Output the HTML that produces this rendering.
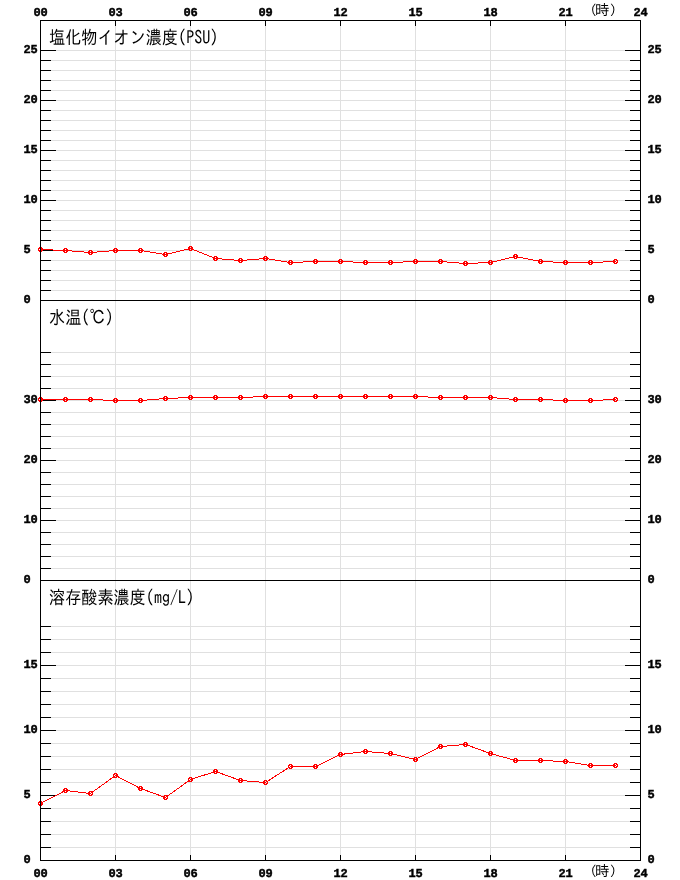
<!DOCTYPE html>
<html lang="ja"><head><meta charset="utf-8"><title>水質グラフ</title>
<style>
html,body{margin:0;padding:0;background:#fff;}
body{width:680px;height:880px;overflow:hidden;}
svg{display:block;}
.n{font-family:"Liberation Mono","DejaVu Sans Mono",monospace;font-weight:bold;font-size:12px;letter-spacing:-0.2px;fill:#000;stroke:#000;stroke-width:0.45px;text-rendering:geometricPrecision;}
.t{font-family:"IPAGothic","Liberation Sans","Noto Sans CJK JP",sans-serif;font-size:16px;fill:#000;}
.h{font-family:"IPAGothic","Liberation Sans","Noto Sans CJK JP",sans-serif;font-size:13.5px;fill:#000;}
.g{fill:#e0e0e0;}
.k{fill:#000;}
.r{fill:#f00;}
.l{fill:none;stroke:#f00;stroke-width:1;}
</style></head><body>
<svg width="680" height="880" viewBox="0 0 680 880" shape-rendering="crispEdges">
<rect width="680" height="880" fill="#fff"/>
<g class="g">
<rect x="41" y="50" width="599" height="1"/>
<rect x="41" y="60" width="599" height="1"/>
<rect x="41" y="70" width="599" height="1"/>
<rect x="41" y="80" width="599" height="1"/>
<rect x="41" y="90" width="599" height="1"/>
<rect x="41" y="100" width="599" height="1"/>
<rect x="41" y="110" width="599" height="1"/>
<rect x="41" y="120" width="599" height="1"/>
<rect x="41" y="130" width="599" height="1"/>
<rect x="41" y="140" width="599" height="1"/>
<rect x="41" y="150" width="599" height="1"/>
<rect x="41" y="160" width="599" height="1"/>
<rect x="41" y="170" width="599" height="1"/>
<rect x="41" y="180" width="599" height="1"/>
<rect x="41" y="190" width="599" height="1"/>
<rect x="41" y="200" width="599" height="1"/>
<rect x="41" y="210" width="599" height="1"/>
<rect x="41" y="220" width="599" height="1"/>
<rect x="41" y="230" width="599" height="1"/>
<rect x="41" y="240" width="599" height="1"/>
<rect x="41" y="250" width="599" height="1"/>
<rect x="41" y="260" width="599" height="1"/>
<rect x="41" y="270" width="599" height="1"/>
<rect x="41" y="280" width="599" height="1"/>
<rect x="41" y="290" width="599" height="1"/>
<rect x="41" y="352" width="599" height="1"/>
<rect x="41" y="364" width="599" height="1"/>
<rect x="41" y="376" width="599" height="1"/>
<rect x="41" y="388" width="599" height="1"/>
<rect x="41" y="400" width="599" height="1"/>
<rect x="41" y="412" width="599" height="1"/>
<rect x="41" y="424" width="599" height="1"/>
<rect x="41" y="436" width="599" height="1"/>
<rect x="41" y="448" width="599" height="1"/>
<rect x="41" y="460" width="599" height="1"/>
<rect x="41" y="472" width="599" height="1"/>
<rect x="41" y="484" width="599" height="1"/>
<rect x="41" y="496" width="599" height="1"/>
<rect x="41" y="508" width="599" height="1"/>
<rect x="41" y="520" width="599" height="1"/>
<rect x="41" y="532" width="599" height="1"/>
<rect x="41" y="544" width="599" height="1"/>
<rect x="41" y="556" width="599" height="1"/>
<rect x="41" y="568" width="599" height="1"/>
<rect x="41" y="626" width="599" height="1"/>
<rect x="41" y="639" width="599" height="1"/>
<rect x="41" y="652" width="599" height="1"/>
<rect x="41" y="665" width="599" height="1"/>
<rect x="41" y="678" width="599" height="1"/>
<rect x="41" y="691" width="599" height="1"/>
<rect x="41" y="704" width="599" height="1"/>
<rect x="41" y="717" width="599" height="1"/>
<rect x="41" y="730" width="599" height="1"/>
<rect x="41" y="743" width="599" height="1"/>
<rect x="41" y="756" width="599" height="1"/>
<rect x="41" y="769" width="599" height="1"/>
<rect x="41" y="782" width="599" height="1"/>
<rect x="41" y="795" width="599" height="1"/>
<rect x="41" y="808" width="599" height="1"/>
<rect x="41" y="821" width="599" height="1"/>
<rect x="41" y="834" width="599" height="1"/>
<rect x="41" y="847" width="599" height="1"/>
<rect x="115" y="21" width="1" height="839"/>
<rect x="190" y="21" width="1" height="839"/>
<rect x="265" y="21" width="1" height="839"/>
<rect x="340" y="21" width="1" height="839"/>
<rect x="415" y="21" width="1" height="839"/>
<rect x="490" y="21" width="1" height="839"/>
<rect x="565" y="21" width="1" height="839"/>
</g>
<g class="k">
<rect x="40" y="20" width="601" height="1"/>
<rect x="40" y="300" width="601" height="1"/>
<rect x="40" y="580" width="601" height="1"/>
<rect x="40" y="860" width="601" height="1"/>
<rect x="41" y="50" width="15" height="1"/>
<rect x="625" y="50" width="15" height="1"/>
<rect x="41" y="60" width="10" height="1"/>
<rect x="630" y="60" width="10" height="1"/>
<rect x="41" y="70" width="10" height="1"/>
<rect x="630" y="70" width="10" height="1"/>
<rect x="41" y="80" width="10" height="1"/>
<rect x="630" y="80" width="10" height="1"/>
<rect x="41" y="90" width="10" height="1"/>
<rect x="630" y="90" width="10" height="1"/>
<rect x="41" y="100" width="15" height="1"/>
<rect x="625" y="100" width="15" height="1"/>
<rect x="41" y="110" width="10" height="1"/>
<rect x="630" y="110" width="10" height="1"/>
<rect x="41" y="120" width="10" height="1"/>
<rect x="630" y="120" width="10" height="1"/>
<rect x="41" y="130" width="10" height="1"/>
<rect x="630" y="130" width="10" height="1"/>
<rect x="41" y="140" width="10" height="1"/>
<rect x="630" y="140" width="10" height="1"/>
<rect x="41" y="150" width="15" height="1"/>
<rect x="625" y="150" width="15" height="1"/>
<rect x="41" y="160" width="10" height="1"/>
<rect x="630" y="160" width="10" height="1"/>
<rect x="41" y="170" width="10" height="1"/>
<rect x="630" y="170" width="10" height="1"/>
<rect x="41" y="180" width="10" height="1"/>
<rect x="630" y="180" width="10" height="1"/>
<rect x="41" y="190" width="10" height="1"/>
<rect x="630" y="190" width="10" height="1"/>
<rect x="41" y="200" width="15" height="1"/>
<rect x="625" y="200" width="15" height="1"/>
<rect x="41" y="210" width="10" height="1"/>
<rect x="630" y="210" width="10" height="1"/>
<rect x="41" y="220" width="10" height="1"/>
<rect x="630" y="220" width="10" height="1"/>
<rect x="41" y="230" width="10" height="1"/>
<rect x="630" y="230" width="10" height="1"/>
<rect x="41" y="240" width="10" height="1"/>
<rect x="630" y="240" width="10" height="1"/>
<rect x="41" y="250" width="15" height="1"/>
<rect x="625" y="250" width="15" height="1"/>
<rect x="41" y="260" width="10" height="1"/>
<rect x="630" y="260" width="10" height="1"/>
<rect x="41" y="270" width="10" height="1"/>
<rect x="630" y="270" width="10" height="1"/>
<rect x="41" y="280" width="10" height="1"/>
<rect x="630" y="280" width="10" height="1"/>
<rect x="41" y="290" width="10" height="1"/>
<rect x="630" y="290" width="10" height="1"/>
<rect x="41" y="352" width="10" height="1"/>
<rect x="630" y="352" width="10" height="1"/>
<rect x="41" y="364" width="10" height="1"/>
<rect x="630" y="364" width="10" height="1"/>
<rect x="41" y="376" width="10" height="1"/>
<rect x="630" y="376" width="10" height="1"/>
<rect x="41" y="388" width="10" height="1"/>
<rect x="630" y="388" width="10" height="1"/>
<rect x="41" y="400" width="15" height="1"/>
<rect x="625" y="400" width="15" height="1"/>
<rect x="41" y="412" width="10" height="1"/>
<rect x="630" y="412" width="10" height="1"/>
<rect x="41" y="424" width="10" height="1"/>
<rect x="630" y="424" width="10" height="1"/>
<rect x="41" y="436" width="10" height="1"/>
<rect x="630" y="436" width="10" height="1"/>
<rect x="41" y="448" width="10" height="1"/>
<rect x="630" y="448" width="10" height="1"/>
<rect x="41" y="460" width="15" height="1"/>
<rect x="625" y="460" width="15" height="1"/>
<rect x="41" y="472" width="10" height="1"/>
<rect x="630" y="472" width="10" height="1"/>
<rect x="41" y="484" width="10" height="1"/>
<rect x="630" y="484" width="10" height="1"/>
<rect x="41" y="496" width="10" height="1"/>
<rect x="630" y="496" width="10" height="1"/>
<rect x="41" y="508" width="10" height="1"/>
<rect x="630" y="508" width="10" height="1"/>
<rect x="41" y="520" width="15" height="1"/>
<rect x="625" y="520" width="15" height="1"/>
<rect x="41" y="532" width="10" height="1"/>
<rect x="630" y="532" width="10" height="1"/>
<rect x="41" y="544" width="10" height="1"/>
<rect x="630" y="544" width="10" height="1"/>
<rect x="41" y="556" width="10" height="1"/>
<rect x="630" y="556" width="10" height="1"/>
<rect x="41" y="568" width="10" height="1"/>
<rect x="630" y="568" width="10" height="1"/>
<rect x="41" y="626" width="10" height="1"/>
<rect x="630" y="626" width="10" height="1"/>
<rect x="41" y="639" width="10" height="1"/>
<rect x="630" y="639" width="10" height="1"/>
<rect x="41" y="652" width="10" height="1"/>
<rect x="630" y="652" width="10" height="1"/>
<rect x="41" y="665" width="15" height="1"/>
<rect x="625" y="665" width="15" height="1"/>
<rect x="41" y="678" width="10" height="1"/>
<rect x="630" y="678" width="10" height="1"/>
<rect x="41" y="691" width="10" height="1"/>
<rect x="630" y="691" width="10" height="1"/>
<rect x="41" y="704" width="10" height="1"/>
<rect x="630" y="704" width="10" height="1"/>
<rect x="41" y="717" width="10" height="1"/>
<rect x="630" y="717" width="10" height="1"/>
<rect x="41" y="730" width="15" height="1"/>
<rect x="625" y="730" width="15" height="1"/>
<rect x="41" y="743" width="10" height="1"/>
<rect x="630" y="743" width="10" height="1"/>
<rect x="41" y="756" width="10" height="1"/>
<rect x="630" y="756" width="10" height="1"/>
<rect x="41" y="769" width="10" height="1"/>
<rect x="630" y="769" width="10" height="1"/>
<rect x="41" y="782" width="10" height="1"/>
<rect x="630" y="782" width="10" height="1"/>
<rect x="41" y="795" width="15" height="1"/>
<rect x="625" y="795" width="15" height="1"/>
<rect x="41" y="808" width="10" height="1"/>
<rect x="630" y="808" width="10" height="1"/>
<rect x="41" y="821" width="10" height="1"/>
<rect x="630" y="821" width="10" height="1"/>
<rect x="41" y="834" width="10" height="1"/>
<rect x="630" y="834" width="10" height="1"/>
<rect x="41" y="847" width="10" height="1"/>
<rect x="630" y="847" width="10" height="1"/>
<rect x="115" y="21" width="1" height="5"/>
<rect x="115" y="855" width="1" height="5"/>
<rect x="190" y="21" width="1" height="5"/>
<rect x="190" y="855" width="1" height="5"/>
<rect x="265" y="21" width="1" height="5"/>
<rect x="265" y="855" width="1" height="5"/>
<rect x="340" y="21" width="1" height="5"/>
<rect x="340" y="855" width="1" height="5"/>
<rect x="415" y="21" width="1" height="5"/>
<rect x="415" y="855" width="1" height="5"/>
<rect x="490" y="21" width="1" height="5"/>
<rect x="490" y="855" width="1" height="5"/>
<rect x="565" y="21" width="1" height="5"/>
<rect x="565" y="855" width="1" height="5"/>
</g>
<text class="t" transform="translate(49.1,43.5) scale(1.008,1.15)">塩化物イオン濃度(PSU)</text>
<text class="t" transform="translate(49.1,323.5) scale(1.008,1.15)">水温(℃)</text>
<text class="t" transform="translate(49.1,603.5) scale(1.008,1.15)">溶存酸素濃度(mg/L)</text>
<text class="n" x="23.6" y="53">25</text>
<text class="n" x="647.6" y="53">25</text>
<text class="n" x="23.6" y="103">20</text>
<text class="n" x="647.6" y="103">20</text>
<text class="n" x="23.6" y="153">15</text>
<text class="n" x="647.6" y="153">15</text>
<text class="n" x="23.6" y="203">10</text>
<text class="n" x="647.6" y="203">10</text>
<text class="n" x="23.6" y="253">5</text>
<text class="n" x="647.6" y="253">5</text>
<text class="n" x="23.6" y="303">0</text>
<text class="n" x="647.6" y="303">0</text>
<text class="n" x="23.6" y="403">30</text>
<text class="n" x="647.6" y="403">30</text>
<text class="n" x="23.6" y="463">20</text>
<text class="n" x="647.6" y="463">20</text>
<text class="n" x="23.6" y="523">10</text>
<text class="n" x="647.6" y="523">10</text>
<text class="n" x="23.6" y="583">0</text>
<text class="n" x="647.6" y="583">0</text>
<text class="n" x="23.6" y="668">15</text>
<text class="n" x="647.6" y="668">15</text>
<text class="n" x="23.6" y="733">10</text>
<text class="n" x="647.6" y="733">10</text>
<text class="n" x="23.6" y="798">5</text>
<text class="n" x="647.6" y="798">5</text>
<text class="n" x="23.6" y="863">0</text>
<text class="n" x="647.6" y="863">0</text>
<text class="n" x="33.6" y="16">00</text>
<text class="n" x="33.6" y="877">00</text>
<text class="n" x="108.6" y="16">03</text>
<text class="n" x="108.6" y="877">03</text>
<text class="n" x="183.6" y="16">06</text>
<text class="n" x="183.6" y="877">06</text>
<text class="n" x="258.6" y="16">09</text>
<text class="n" x="258.6" y="877">09</text>
<text class="n" x="333.6" y="16">12</text>
<text class="n" x="333.6" y="877">12</text>
<text class="n" x="408.6" y="16">15</text>
<text class="n" x="408.6" y="877">15</text>
<text class="n" x="483.6" y="16">18</text>
<text class="n" x="483.6" y="877">18</text>
<text class="n" x="558.6" y="16">21</text>
<text class="n" x="558.6" y="877">21</text>
<text class="n" x="633.6" y="16">24</text>
<text class="n" x="633.6" y="877">24</text>
<text class="h" y="15"><tspan x="590">(</tspan><tspan x="594.9" style="font-size:14.5px">時</tspan><tspan x="609.8">)</tspan></text>
<text class="h" y="876"><tspan x="590">(</tspan><tspan x="594.9" style="font-size:14.5px">時</tspan><tspan x="609.8">)</tspan></text>
<polyline class="l" points="40.5,249.5 65.5,250.5 90.5,252.5 115.5,250.5 140.5,250.5 165.5,254.5 190.5,248.5 215.5,258.5 240.5,260.5 265.5,258.5 290.5,262.5 315.5,261.5 340.5,261.5 365.5,262.5 390.5,262.5 415.5,261.5 440.5,261.5 465.5,263.5 490.5,262.5 515.5,256.5 540.5,261.5 565.5,262.5 590.5,262.5 615.5,261.5"/>
<rect class="r" x="615" y="261" width="1" height="1"/>
<path class="r" fill-rule="evenodd" d="M39 247h3v1h1v3h-1v1h-3v-1h-1v-3h1zM40 248h1v1h1v1h-1v1h-1v-1h-1v-1h1zM64 248h3v1h1v3h-1v1h-3v-1h-1v-3h1zM65 249h1v1h1v1h-1v1h-1v-1h-1v-1h1zM89 250h3v1h1v3h-1v1h-3v-1h-1v-3h1zM90 251h1v1h1v1h-1v1h-1v-1h-1v-1h1zM114 248h3v1h1v3h-1v1h-3v-1h-1v-3h1zM115 249h1v1h1v1h-1v1h-1v-1h-1v-1h1zM139 248h3v1h1v3h-1v1h-3v-1h-1v-3h1zM140 249h1v1h1v1h-1v1h-1v-1h-1v-1h1zM164 252h3v1h1v3h-1v1h-3v-1h-1v-3h1zM165 253h1v1h1v1h-1v1h-1v-1h-1v-1h1zM189 246h3v1h1v3h-1v1h-3v-1h-1v-3h1zM190 247h1v1h1v1h-1v1h-1v-1h-1v-1h1zM214 256h3v1h1v3h-1v1h-3v-1h-1v-3h1zM215 257h1v1h1v1h-1v1h-1v-1h-1v-1h1zM239 258h3v1h1v3h-1v1h-3v-1h-1v-3h1zM240 259h1v1h1v1h-1v1h-1v-1h-1v-1h1zM264 256h3v1h1v3h-1v1h-3v-1h-1v-3h1zM265 257h1v1h1v1h-1v1h-1v-1h-1v-1h1zM289 260h3v1h1v3h-1v1h-3v-1h-1v-3h1zM290 261h1v1h1v1h-1v1h-1v-1h-1v-1h1zM314 259h3v1h1v3h-1v1h-3v-1h-1v-3h1zM315 260h1v1h1v1h-1v1h-1v-1h-1v-1h1zM339 259h3v1h1v3h-1v1h-3v-1h-1v-3h1zM340 260h1v1h1v1h-1v1h-1v-1h-1v-1h1zM364 260h3v1h1v3h-1v1h-3v-1h-1v-3h1zM365 261h1v1h1v1h-1v1h-1v-1h-1v-1h1zM389 260h3v1h1v3h-1v1h-3v-1h-1v-3h1zM390 261h1v1h1v1h-1v1h-1v-1h-1v-1h1zM414 259h3v1h1v3h-1v1h-3v-1h-1v-3h1zM415 260h1v1h1v1h-1v1h-1v-1h-1v-1h1zM439 259h3v1h1v3h-1v1h-3v-1h-1v-3h1zM440 260h1v1h1v1h-1v1h-1v-1h-1v-1h1zM464 261h3v1h1v3h-1v1h-3v-1h-1v-3h1zM465 262h1v1h1v1h-1v1h-1v-1h-1v-1h1zM489 260h3v1h1v3h-1v1h-3v-1h-1v-3h1zM490 261h1v1h1v1h-1v1h-1v-1h-1v-1h1zM514 254h3v1h1v3h-1v1h-3v-1h-1v-3h1zM515 255h1v1h1v1h-1v1h-1v-1h-1v-1h1zM539 259h3v1h1v3h-1v1h-3v-1h-1v-3h1zM540 260h1v1h1v1h-1v1h-1v-1h-1v-1h1zM564 260h3v1h1v3h-1v1h-3v-1h-1v-3h1zM565 261h1v1h1v1h-1v1h-1v-1h-1v-1h1zM589 260h3v1h1v3h-1v1h-3v-1h-1v-3h1zM590 261h1v1h1v1h-1v1h-1v-1h-1v-1h1zM614 259h3v1h1v3h-1v1h-3v-1h-1v-3h1zM615 260h1v1h1v1h-1v1h-1v-1h-1v-1h1z"/>
<polyline class="l" points="40.5,399.5 65.5,399.5 90.5,399.5 115.5,400.5 140.5,400.5 165.5,398.5 190.5,397.5 215.5,397.5 240.5,397.5 265.5,396.5 290.5,396.5 315.5,396.5 340.5,396.5 365.5,396.5 390.5,396.5 415.5,396.5 440.5,397.5 465.5,397.5 490.5,397.5 515.5,399.5 540.5,399.5 565.5,400.5 590.5,400.5 615.5,399.5"/>
<rect class="r" x="615" y="399" width="1" height="1"/>
<path class="r" fill-rule="evenodd" d="M39 397h3v1h1v3h-1v1h-3v-1h-1v-3h1zM40 398h1v1h1v1h-1v1h-1v-1h-1v-1h1zM64 397h3v1h1v3h-1v1h-3v-1h-1v-3h1zM65 398h1v1h1v1h-1v1h-1v-1h-1v-1h1zM89 397h3v1h1v3h-1v1h-3v-1h-1v-3h1zM90 398h1v1h1v1h-1v1h-1v-1h-1v-1h1zM114 398h3v1h1v3h-1v1h-3v-1h-1v-3h1zM115 399h1v1h1v1h-1v1h-1v-1h-1v-1h1zM139 398h3v1h1v3h-1v1h-3v-1h-1v-3h1zM140 399h1v1h1v1h-1v1h-1v-1h-1v-1h1zM164 396h3v1h1v3h-1v1h-3v-1h-1v-3h1zM165 397h1v1h1v1h-1v1h-1v-1h-1v-1h1zM189 395h3v1h1v3h-1v1h-3v-1h-1v-3h1zM190 396h1v1h1v1h-1v1h-1v-1h-1v-1h1zM214 395h3v1h1v3h-1v1h-3v-1h-1v-3h1zM215 396h1v1h1v1h-1v1h-1v-1h-1v-1h1zM239 395h3v1h1v3h-1v1h-3v-1h-1v-3h1zM240 396h1v1h1v1h-1v1h-1v-1h-1v-1h1zM264 394h3v1h1v3h-1v1h-3v-1h-1v-3h1zM265 395h1v1h1v1h-1v1h-1v-1h-1v-1h1zM289 394h3v1h1v3h-1v1h-3v-1h-1v-3h1zM290 395h1v1h1v1h-1v1h-1v-1h-1v-1h1zM314 394h3v1h1v3h-1v1h-3v-1h-1v-3h1zM315 395h1v1h1v1h-1v1h-1v-1h-1v-1h1zM339 394h3v1h1v3h-1v1h-3v-1h-1v-3h1zM340 395h1v1h1v1h-1v1h-1v-1h-1v-1h1zM364 394h3v1h1v3h-1v1h-3v-1h-1v-3h1zM365 395h1v1h1v1h-1v1h-1v-1h-1v-1h1zM389 394h3v1h1v3h-1v1h-3v-1h-1v-3h1zM390 395h1v1h1v1h-1v1h-1v-1h-1v-1h1zM414 394h3v1h1v3h-1v1h-3v-1h-1v-3h1zM415 395h1v1h1v1h-1v1h-1v-1h-1v-1h1zM439 395h3v1h1v3h-1v1h-3v-1h-1v-3h1zM440 396h1v1h1v1h-1v1h-1v-1h-1v-1h1zM464 395h3v1h1v3h-1v1h-3v-1h-1v-3h1zM465 396h1v1h1v1h-1v1h-1v-1h-1v-1h1zM489 395h3v1h1v3h-1v1h-3v-1h-1v-3h1zM490 396h1v1h1v1h-1v1h-1v-1h-1v-1h1zM514 397h3v1h1v3h-1v1h-3v-1h-1v-3h1zM515 398h1v1h1v1h-1v1h-1v-1h-1v-1h1zM539 397h3v1h1v3h-1v1h-3v-1h-1v-3h1zM540 398h1v1h1v1h-1v1h-1v-1h-1v-1h1zM564 398h3v1h1v3h-1v1h-3v-1h-1v-3h1zM565 399h1v1h1v1h-1v1h-1v-1h-1v-1h1zM589 398h3v1h1v3h-1v1h-3v-1h-1v-3h1zM590 399h1v1h1v1h-1v1h-1v-1h-1v-1h1zM614 397h3v1h1v3h-1v1h-3v-1h-1v-3h1zM615 398h1v1h1v1h-1v1h-1v-1h-1v-1h1z"/>
<polyline class="l" points="40.5,803.5 65.5,790.5 90.5,793.5 115.5,775.5 140.5,788.5 165.5,797.5 190.5,779.5 215.5,771.5 240.5,780.5 265.5,782.5 290.5,766.5 315.5,766.5 340.5,754.5 365.5,751.5 390.5,753.5 415.5,759.5 440.5,746.5 465.5,744.5 490.5,753.5 515.5,760.5 540.5,760.5 565.5,761.5 590.5,765.5 615.5,765.5"/>
<rect class="r" x="615" y="765" width="1" height="1"/>
<path class="r" fill-rule="evenodd" d="M39 801h3v1h1v3h-1v1h-3v-1h-1v-3h1zM40 802h1v1h1v1h-1v1h-1v-1h-1v-1h1zM64 788h3v1h1v3h-1v1h-3v-1h-1v-3h1zM65 789h1v1h1v1h-1v1h-1v-1h-1v-1h1zM89 791h3v1h1v3h-1v1h-3v-1h-1v-3h1zM90 792h1v1h1v1h-1v1h-1v-1h-1v-1h1zM114 773h3v1h1v3h-1v1h-3v-1h-1v-3h1zM115 774h1v1h1v1h-1v1h-1v-1h-1v-1h1zM139 786h3v1h1v3h-1v1h-3v-1h-1v-3h1zM140 787h1v1h1v1h-1v1h-1v-1h-1v-1h1zM164 795h3v1h1v3h-1v1h-3v-1h-1v-3h1zM165 796h1v1h1v1h-1v1h-1v-1h-1v-1h1zM189 777h3v1h1v3h-1v1h-3v-1h-1v-3h1zM190 778h1v1h1v1h-1v1h-1v-1h-1v-1h1zM214 769h3v1h1v3h-1v1h-3v-1h-1v-3h1zM215 770h1v1h1v1h-1v1h-1v-1h-1v-1h1zM239 778h3v1h1v3h-1v1h-3v-1h-1v-3h1zM240 779h1v1h1v1h-1v1h-1v-1h-1v-1h1zM264 780h3v1h1v3h-1v1h-3v-1h-1v-3h1zM265 781h1v1h1v1h-1v1h-1v-1h-1v-1h1zM289 764h3v1h1v3h-1v1h-3v-1h-1v-3h1zM290 765h1v1h1v1h-1v1h-1v-1h-1v-1h1zM314 764h3v1h1v3h-1v1h-3v-1h-1v-3h1zM315 765h1v1h1v1h-1v1h-1v-1h-1v-1h1zM339 752h3v1h1v3h-1v1h-3v-1h-1v-3h1zM340 753h1v1h1v1h-1v1h-1v-1h-1v-1h1zM364 749h3v1h1v3h-1v1h-3v-1h-1v-3h1zM365 750h1v1h1v1h-1v1h-1v-1h-1v-1h1zM389 751h3v1h1v3h-1v1h-3v-1h-1v-3h1zM390 752h1v1h1v1h-1v1h-1v-1h-1v-1h1zM414 757h3v1h1v3h-1v1h-3v-1h-1v-3h1zM415 758h1v1h1v1h-1v1h-1v-1h-1v-1h1zM439 744h3v1h1v3h-1v1h-3v-1h-1v-3h1zM440 745h1v1h1v1h-1v1h-1v-1h-1v-1h1zM464 742h3v1h1v3h-1v1h-3v-1h-1v-3h1zM465 743h1v1h1v1h-1v1h-1v-1h-1v-1h1zM489 751h3v1h1v3h-1v1h-3v-1h-1v-3h1zM490 752h1v1h1v1h-1v1h-1v-1h-1v-1h1zM514 758h3v1h1v3h-1v1h-3v-1h-1v-3h1zM515 759h1v1h1v1h-1v1h-1v-1h-1v-1h1zM539 758h3v1h1v3h-1v1h-3v-1h-1v-3h1zM540 759h1v1h1v1h-1v1h-1v-1h-1v-1h1zM564 759h3v1h1v3h-1v1h-3v-1h-1v-3h1zM565 760h1v1h1v1h-1v1h-1v-1h-1v-1h1zM589 763h3v1h1v3h-1v1h-3v-1h-1v-3h1zM590 764h1v1h1v1h-1v1h-1v-1h-1v-1h1zM614 763h3v1h1v3h-1v1h-3v-1h-1v-3h1zM615 764h1v1h1v1h-1v1h-1v-1h-1v-1h1z"/>
<rect class="k" x="40" y="20" width="1" height="841"/>
<rect class="k" x="640" y="20" width="1" height="841"/>
</svg>
</body></html>
